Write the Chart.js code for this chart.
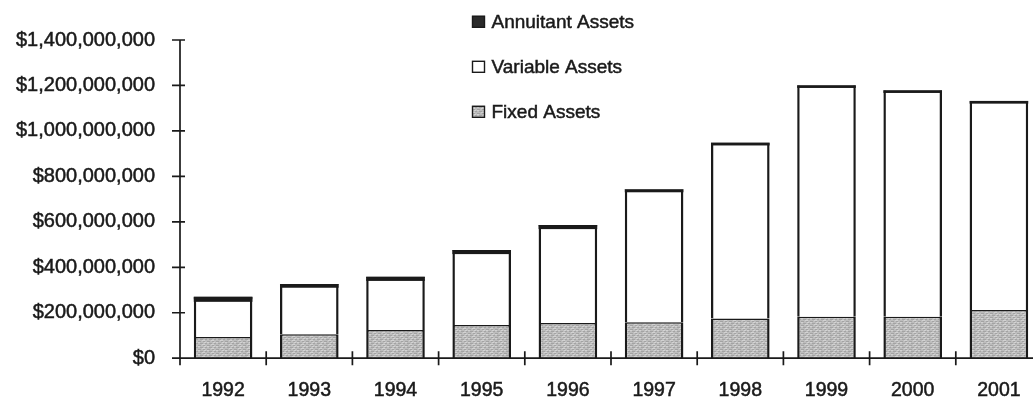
<!DOCTYPE html>
<html>
<head>
<meta charset="utf-8">
<script src="https://cdn.jsdelivr.net/npm/chart.js@4/dist/chart.umd.min.js"></script>
<style>
  html, body { margin: 0; padding: 0; background: #fff; overflow: hidden; }
  #wrap { width: 1050px; height: 398px; }
</style>
</head>
<body>
<div id="wrap"><canvas id="c" width="1050" height="398"></canvas></div>
<script>
// Assets by plan year (US dollars)
const years = ['1992', '1993', '1994', '1995', '1996', '1997', '1998', '1999', '2000', '2001'];
const fixedAssets     = [ 93000000, 105000000, 124000000, 146000000, 155000000, 158000000, 175000000,  182000000,  182000000, 212000000];
const variableAssets  = [166000000, 216000000, 227000000, 323000000, 424000000, 583000000, 772000000, 1018000000,  996000000, 919000000];
const annuitantAssets = [ 11000000,   5000000,   7000000,   7000000,   7000000,   2000000,   1000000,    1000000,    1000000,   1000000];
const yMax = 1400000000;
const yStep = 200000000;

const INK = '#1a1a1a';
const FONT = "'Liberation Sans', Arial, Helvetica, sans-serif";
const OUTLINE = 2.5;
const canvas = document.getElementById('c');
const ctx0 = canvas.getContext('2d');

// streaky light-grey fill used for the fixed-asset segments
function streaks() {
  const p = document.createElement('canvas');
  p.width = 9; p.height = 4;
  const g = p.getContext('2d');
  g.fillStyle = '#bdbdbd'; g.fillRect(0, 0, 9, 4);
  g.fillStyle = '#a3a3a3';
  g.fillRect(0, 1, 3, 1); g.fillRect(5, 1, 2, 1); g.fillRect(2, 3, 3, 1); g.fillRect(7, 3, 2, 1);
  g.fillStyle = '#d2d2d2';
  g.fillRect(4, 0, 3, 1); g.fillRect(0, 2, 2, 1); g.fillRect(6, 2, 2, 1);
  return ctx0.createPattern(p, 'repeat');
}
const fixedFill = streaks();

// top cap of each stack: the annuitant segment plus the outline under it, as one solid block
const stackCap = {
  id: 'stackCap',
  afterDatasetsDraw(chart) {
    const { ctx } = chart;
    const meta = chart.getDatasetMeta(2);
    ctx.save();
    ctx.fillStyle = INK;
    meta.data.forEach(bar => {
      const { x, y, base, width } = bar.getProps(['x', 'y', 'base', 'width'], true);
      ctx.fillRect(x - width / 2, Math.min(y, base), width, Math.abs(base - y) + OUTLINE);
    });
    ctx.restore();
  }
};

// crossing tick marks and axis lines that overshoot the origin
const axisMarks = {
  id: 'axisMarks',
  afterDatasetsDraw(chart) {
    const { ctx, chartArea: a, scales: { x, y } } = chart;
    ctx.save();
    ctx.strokeStyle = INK;
    ctx.lineWidth = 1.7;
    ctx.beginPath();
    ctx.moveTo(a.left, a.top);
    ctx.lineTo(a.left, a.bottom + 7);
    ctx.moveTo(a.left - 8, a.bottom);
    ctx.lineTo(a.right, a.bottom);
    y.ticks.forEach(t => {
      const py = y.getPixelForValue(t.value);
      ctx.moveTo(a.left - 8, py);
      ctx.lineTo(a.left + 5, py);
    });
    for (let i = 1; i < years.length; i++) {
      const px = (x.getPixelForValue(i - 1) + x.getPixelForValue(i)) / 2;
      ctx.moveTo(px, a.bottom - 7);
      ctx.lineTo(px, a.bottom + 7);
    }
    ctx.stroke();
    ctx.restore();
  }
};

// vertical legend, top series first
const stackLegend = {
  id: 'stackLegend',
  afterDraw(chart) {
    const { ctx } = chart;
    const sets = chart.data.datasets.slice().reverse();
    const left = 472, baseline0 = 28.3, gap = 45;
    ctx.save();
    ctx.font = '19px ' + FONT;
    ctx.textBaseline = 'alphabetic';
    ctx.textAlign = 'left';
    sets.forEach((ds, i) => {
      const base = baseline0 + i * gap;
      const top = base - 12.5;
      ctx.fillStyle = ds.backgroundColor;
      ctx.fillRect(left, top, 13, 12);
      ctx.strokeStyle = INK;
      ctx.lineWidth = 1.4;
      ctx.strokeRect(left + 0.5, top + 0.5, 12, 11);
      ctx.fillStyle = INK;
      ctx.lineWidth = 0.5;
      ctx.fillText(ds.label, left + 19.5, base);
      ctx.strokeText(ds.label, left + 19.5, base);
    });
    ctx.restore();
  }
};

const tickFont = size => ({ family: FONT, size });

new Chart(canvas, {
  type: 'bar',
  data: {
    labels: years,
    datasets: [
      {
        label: 'Fixed Assets',
        data: fixedAssets,
        backgroundColor: fixedFill,
        borderColor: INK,
        borderWidth: { top: 1.5, left: OUTLINE, right: OUTLINE, bottom: 0 }
      },
      {
        label: 'Variable Assets',
        data: variableAssets,
        backgroundColor: '#ffffff',
        borderColor: INK,
        borderWidth: { top: 0, left: OUTLINE, right: OUTLINE, bottom: 0 }
      },
      {
        label: 'Annuitant Assets',
        data: annuitantAssets,
        backgroundColor: '#2a2a2a',
        borderWidth: 0
      }
    ]
  },
  options: {
    responsive: false,
    animation: false,
    devicePixelRatio: 1,
    layout: { padding: { top: 40, right: 8, bottom: 0, left: 0 } },
    datasets: { bar: { categoryPercentage: 1, barPercentage: 0.68, borderSkipped: false, inflateAmount: 0 } },
    plugins: { legend: { display: false }, tooltip: { enabled: false } },
    scales: {
      x: {
        stacked: true,
        offset: true,
        grid: { display: false, drawTicks: false },
        border: { display: false },
        ticks: { color: INK, font: tickFont(19.5), padding: 21, maxRotation: 0,
                 textStrokeColor: INK, textStrokeWidth: 0.5 },
        afterFit(s) { s.height = 39.8; }
      },
      y: {
        stacked: true,
        min: 0,
        max: yMax,
        grid: { display: false, drawTicks: false },
        border: { display: false },
        ticks: {
          stepSize: yStep,
          color: INK,
          font: tickFont(20),
          padding: 25,
          textStrokeColor: INK,
          textStrokeWidth: 0.5,
          callback: v => '$' + Number(v).toLocaleString('en-US')
        },
        afterFit(s) { s.width = 180; }
      }
    }
  },
  plugins: [stackCap, axisMarks, stackLegend]
});
</script>
</body>
</html>
